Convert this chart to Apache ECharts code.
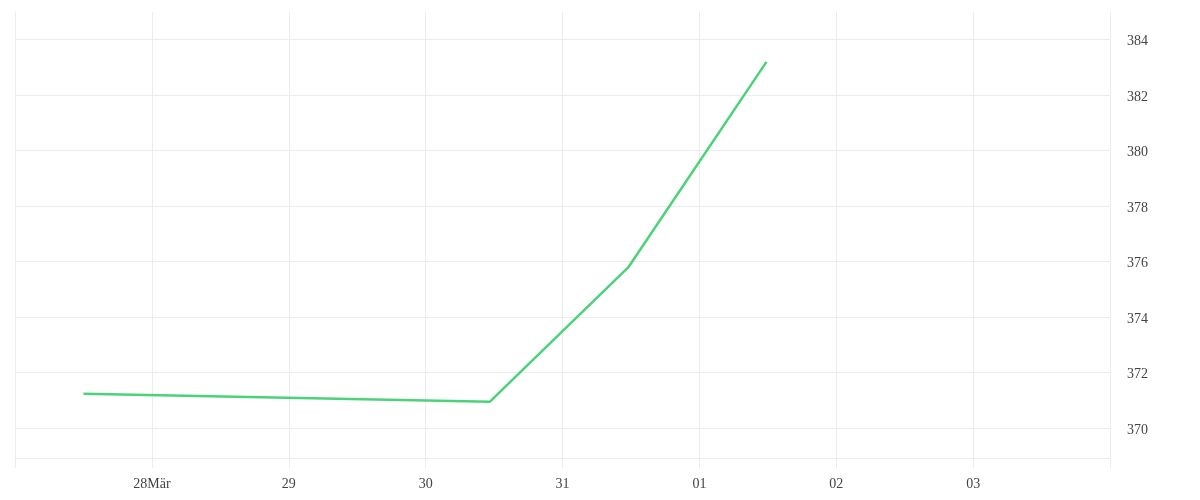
<!DOCTYPE html>
<html>
<head>
<meta charset="utf-8">
<script src="https://cdn.jsdelivr.net/npm/echarts@6/dist/echarts.min.js"></script>
<style>
  html, body { margin: 0; padding: 0; background: #fff; }
  #chart { width: 1200px; height: 500px; }
</style>
</head>
<body>
<div id="chart"></div>
<script>
// x in days from 27 Mar 00:00
const xLabels = ['', '28Mär', '29', '30', '31', '01', '02', '03', ''];
const yTicks = [370, 372, 374, 376, 378, 380, 382, 384];
const pointDays = [0.5, 3.47, 4.48, 5.49];
const pointValues = [371.24, 370.95, 375.79, 383.2];

const gridColor = '#ececec';
const textColor = '#444';
const fontFamily = 'Liberation Serif';

const chart = echarts.init(document.getElementById('chart'));

chart.setOption({
    animation: false,
    grid: { left: 15, right: 90, top: 12, bottom: 42 },
    xAxis: {
        type: 'value',
        min: 0,
        max: 8,
        interval: 1,
        axisLine: { show: true, lineStyle: { color: gridColor } },
        axisTick: { show: true, length: 10, lineStyle: { color: gridColor } },
        splitLine: { show: true, lineStyle: { color: gridColor } },
        axisLabel: {
            margin: 19,
            color: textColor,
            fontFamily: fontFamily,
            fontSize: 14,
            formatter: (v) => xLabels[Math.round(v)] || ''
        }
    },
    yAxis: {
        type: 'value',
        position: 'right',
        min: 368.92,
        max: 385,
        axisLine: { show: true, lineStyle: { color: gridColor } },
        axisTick: { show: false, customValues: yTicks },
        splitLine: { show: true, lineStyle: { color: gridColor } },
        axisLabel: {
            margin: 17,
            customValues: yTicks,
            verticalAlign: 'top',
            padding: [-5, 0, 0, 0],
            color: textColor,
            fontFamily: fontFamily,
            fontSize: 14
        }
    },
    series: [{
        type: 'line',
        data: pointDays.map((d, i) => [d, pointValues[i]]),
        showSymbol: false,
        lineStyle: { color: '#4cd27b', width: 2.5 }
    }]
});
</script>
</body>
</html>
